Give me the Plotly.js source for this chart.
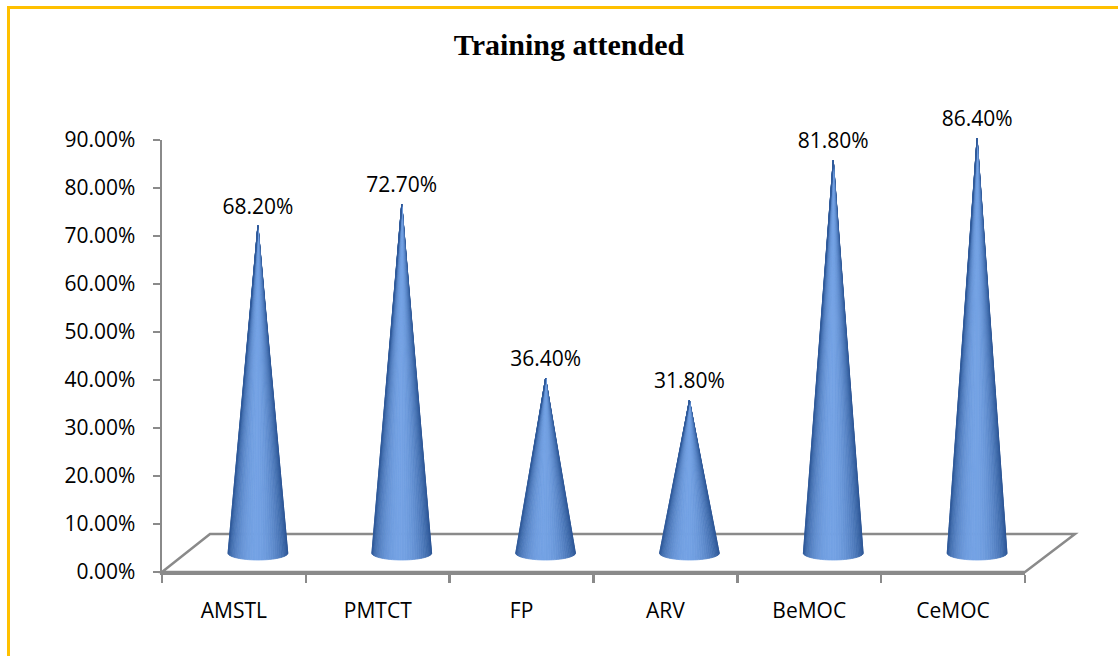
<!DOCTYPE html>
<html>
<head>
<meta charset="utf-8">
<script src="https://cdn.plot.ly/plotly-3.0.1.min.js"></script>
<style>
  html, body { margin: 0; padding: 0; background: #ffffff; }
  #wrap { position: relative; width: 1118px; height: 656px; overflow: hidden; }
  #chart { width: 1118px; height: 656px; }
  #frame { position: absolute; left: 7px; top: 6px; width: 3000px; height: 3000px;
           border-left: 3px solid #FFC000; border-top: 3px solid #FFC000; pointer-events: none; }
</style>
</head>
<body>
<div id="wrap"><div id="chart"></div><div id="frame"></div></div>
<script>
// ---- data ----
const categories = ['AMSTL', 'PMTCT', 'FP', 'ARV', 'BeMOC', 'CeMOC'];
const values = [68.2, 72.7, 36.4, 31.8, 81.8, 86.4];
const labels = ['68.20%', '72.70%', '36.40%', '31.80%', '81.80%', '86.40%'];
const chartTitle = 'Training attended';

// ---- layout geometry (pixels) ----
const W = 1118, H = 656;
const left = 162, frontRight = 1025, backRight = 1075;
const yZero = 572, yTop90 = 140;
const depthX = 48, depthY = 38;          // full floor depth
const coneDX = depthX / 2, coneDY = depthY / 2;   // cones stand mid-depth
const plotW = backRight - left;           // 913
const plotTop = yTop90 - coneDY;          // 121
const plotH = yZero - plotTop;            // 451
const frontW = frontRight - left;         // 863
const pxPerCat = frontW / categories.length;
const pxPerPct = (yZero - yTop90) / 90;

const x2min = -0.5 - coneDX / pxPerCat;
const x2max = x2min + plotW / pxPerCat;
const y2min = -coneDY / pxPerPct;

const coneHalfW = 30 / pxPerCat;
const coneHalfH = 7 / pxPerPct;

// ---- cone facets (shaded strips from apex to front half of base ellipse) ----
const N = 36;
const dark = [44, 86, 150], light = [116, 162, 228];
const lightAngle = Math.PI * 0.53;
function shade(t) {
  let f = Math.cos(t - lightAngle);
  f = Math.max(0, f);
  f = Math.pow(f, 1.6);
  const c = dark.map((d, i) => Math.round(d + (light[i] - d) * f));
  return 'rgb(' + c.join(',') + ')';
}
const traces = [];
// invisible trace to register categories on main axis
traces.push({
  x: categories, y: categories.map(() => 0), xaxis: 'x', yaxis: 'y',
  type: 'scatter', mode: 'markers', marker: {opacity: 0}, hoverinfo: 'skip', showlegend: false
});
for (let k = 0; k < N; k++) {
  const t0 = Math.PI * k / N, t1 = Math.PI * (k + 1) / N;
  const col = shade((t0 + t1) / 2);
  const xs = [], ys = [];
  categories.forEach((cat, i) => {
    const v = values[i];
    xs.push(i, i + coneHalfW * Math.cos(t0), i + coneHalfW * Math.cos(t1), i, null);
    ys.push(v, -coneHalfH * Math.sin(t0), -coneHalfH * Math.sin(t1), v, null);
  });
  traces.push({
    x: xs, y: ys, xaxis: 'x2', yaxis: 'y2', type: 'scatter', mode: 'lines',
    fill: 'toself', fillcolor: col, line: {color: col, width: 0.8},
    hoverinfo: 'skip', showlegend: false, connectgaps: false
  });
}
// data labels
traces.push({
  x: categories.map((c, i) => i), y: values, xaxis: 'x2', yaxis: 'y2',
  type: 'scatter', mode: 'markers+text', text: labels, textposition: 'top center',
  marker: {size: 9, opacity: 0},
  textfont: {family: 'Open Sans, Lato, sans-serif', size: 21, color: '#000000'},
  cliponaxis: false, hoverinfo: 'skip', showlegend: false
});

const axisGray = '#8a8a8a';
const layout = {
  width: W, height: H,
  margin: {l: left, r: W - backRight, t: plotTop, b: H - yZero, pad: 0},
  paper_bgcolor: '#ffffff', plot_bgcolor: 'rgba(0,0,0,0)',
  showlegend: false,
  title: {
    text: '<b>' + chartTitle + '</b>',
    font: {family: 'Liberation Serif, Times New Roman, serif', size: 30, color: '#000000'},
    x: 569 / W, xref: 'container', xanchor: 'center',
    y: 1 - 44 / H, yref: 'container', yanchor: 'middle'
  },
  xaxis: {
    type: 'category', categoryorder: 'array', categoryarray: categories,
    domain: [0, frontW / plotW], range: [-0.5, categories.length - 0.5],
    showline: true, linecolor: axisGray, linewidth: 2.5,
    ticks: 'outside', tickson: 'boundaries', ticklen: 8, tickwidth: 2.5, tickcolor: axisGray,
    showgrid: false, zeroline: false, fixedrange: true,
    tickfont: {family: 'Open Sans, Lato, sans-serif', size: 21, color: '#000000'},
    ticklabelstandoff: 18
  },
  yaxis: {
    domain: [0, (yZero - yTop90) / plotH], range: [0, 90],
    tickmode: 'linear', tick0: 0, dtick: 10, tickformat: '.2f', ticksuffix: '%',
    showline: true, linecolor: axisGray, linewidth: 2.5,
    ticks: 'outside', ticklen: 7, tickwidth: 2.5, tickcolor: axisGray,
    showgrid: false, zeroline: false, fixedrange: true,
    tickfont: {family: 'Open Sans, Lato, sans-serif', size: 21, color: '#000000'},
    ticklabelstandoff: 13
  },
  xaxis2: {
    domain: [0, 1], range: [x2min, x2max], anchor: 'y2',
    visible: false, showgrid: false, zeroline: false, fixedrange: true
  },
  yaxis2: {
    domain: [0, 1], range: [y2min, 90], anchor: 'x2',
    visible: false, showgrid: false, zeroline: false, fixedrange: true
  },
  shapes: [{
    type: 'path', xref: 'paper', yref: 'paper', layer: 'below',
    path: 'M 0 0 L ' + (frontW / plotW) + ' 0 L 1 ' + (depthY / plotH) +
          ' L ' + (depthX / plotW) + ' ' + (depthY / plotH) + ' Z',
    line: {color: axisGray, width: 2.5}, fillcolor: 'rgba(255,255,255,0)'
  }]
};

Plotly.newPlot('chart', traces, layout, {displayModeBar: false, staticPlot: true});
</script>
</body>
</html>
